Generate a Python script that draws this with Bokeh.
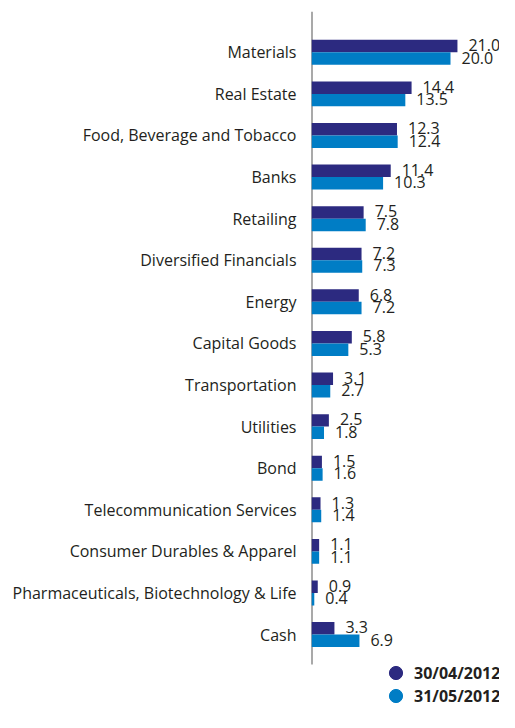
from bokeh.plotting import figure
from bokeh.models import ColumnDataSource, Range1d, FixedTicker, Legend, LegendItem, LabelSet
from bokeh.core.properties import value
from bokeh.embed import file_html
from bokeh.resources import INLINE

categories = ["Materials", "Real Estate", "Food, Beverage and Tobacco", "Banks", "Retailing",
              "Diversified Financials", "Energy", "Capital Goods", "Transportation", "Utilities",
              "Bond", "Telecommunication Services", "Consumer Durables & Apparel",
              "Pharmaceuticals, Biotechnology & Life", "Cash"]
apr_2012 = [21.0, 14.4, 12.3, 11.4, 7.5, 7.2, 6.8, 5.8, 3.1, 2.5, 1.5, 1.3, 1.1, 0.9, 3.3]
may_2012 = [20.0, 13.5, 12.4, 10.3, 7.8, 7.3, 7.2, 5.3, 2.7, 1.8, 1.6, 1.4, 1.1, 0.4, 6.9]
series_names = ["30/04/2012", "31/05/2012"]

DARK = "#2c2a80"
LIGHT = "#007dc5"
FONT = "Open Sans"
TXT = "#231f20"

idx = list(range(len(categories)))
off = 0.15
bh = 0.30
y_top = -0.981
y_axis_end = 14.72

src_a = ColumnDataSource(dict(y=[i - off for i in idx], v=apr_2012,
                              lab=[f"{v:.1f}" for v in apr_2012]))
src_b = ColumnDataSource(dict(y=[i + off for i in idx], v=may_2012,
                              lab=[f"{v:.1f}" for v in may_2012]))

p = figure(width=499, height=712, output_backend="svg", toolbar_location=None,
           x_range=Range1d(0, 27.05), y_range=Range1d(15.874, y_top),
           min_border_left=311, min_border_right=0, min_border_top=11, min_border_bottom=0)
p.outline_line_color = None
p.grid.visible = False
p.xaxis.visible = False

ya = p.yaxis[0]
ya.ticker = FixedTicker(ticks=idx)
ya.major_label_overrides = {i: c for i, c in enumerate(categories)}
ya.major_tick_line_color = None
ya.minor_tick_line_color = None
ya.major_tick_in = 0
ya.major_tick_out = 0
ya.major_label_standoff = 15
ya.axis_line_color = None
ya.major_label_text_font = FONT
ya.major_label_text_font_size = "16px"
ya.major_label_text_color = TXT

# axis line (only down to below the last category)
p.segment(x0=[0], y0=[y_top], x1=[0], y1=[y_axis_end], line_color="#555555", line_width=2)

p.hbar(y="y", right="v", left=0, height=bh, source=src_a, color=DARK, line_color=None)
p.hbar(y="y", right="v", left=0, height=bh, source=src_b, color=LIGHT, line_color=None)

for s in (src_a, src_b):
    p.add_layout(LabelSet(x="v", y="y", text="lab", source=s, x_offset=11, y_offset=1,
                          text_font=value(FONT), text_font_size="16px", text_color=TXT,
                          text_baseline="middle", text_align="left"))

nan = float("nan")
ra = p.scatter(x=[nan], y=[nan], size=13, color=DARK)
rb = p.scatter(x=[nan], y=[nan], size=13, color=LIGHT)

legend_style = dict(orientation="vertical", padding=0, margin=0, spacing=0,
                    glyph_width=33, glyph_height=33, label_height=33, label_standoff=2,
                    label_text_font=FONT, label_text_font_size="16px",
                    label_text_font_style="bold", label_text_color=TXT,
                    background_fill_alpha=0, border_line_color=None)
leg1 = Legend(items=[LegendItem(label=series_names[0], renderers=[ra])],
              location=(68, 23), **legend_style)
leg2 = Legend(items=[LegendItem(label=series_names[1], renderers=[rb])],
              location=(68, 0), **legend_style)
p.add_layout(leg1, "center")
p.add_layout(leg2, "center")

open("out.html", "w").write(file_html(p, INLINE))
